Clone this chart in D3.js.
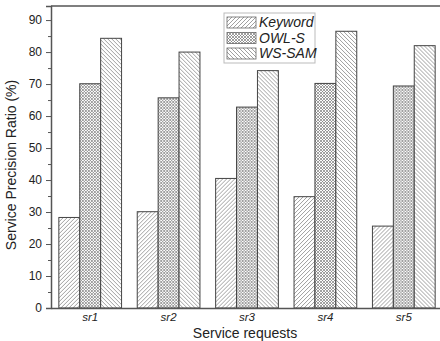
<!DOCTYPE html>
<html>
<head>
<meta charset="utf-8">
<script src="https://cdn.jsdelivr.net/npm/d3@7"></script>
<style>
  body { margin: 0; background: #fff; }
  svg { display: block; font-family: Arial, "Liberation Sans", sans-serif; }
</style>
</head>
<body>
<div id="chart"></div>
<script>
const categories = ["sr1", "sr2", "sr3", "sr4", "sr5"];
const seriesNames = ["Keyword", "OWL-S", "WS-SAM"];
const keywordValues = [28.3, 30.1, 40.5, 34.8, 25.6];
const owlsValues = [70.1, 65.7, 62.8, 70.2, 69.4];
const wssamValues = [84.3, 80.0, 74.2, 86.5, 82.0];
const yTicks = [0, 10, 20, 30, 40, 50, 60, 70, 80, 90];

const series = [keywordValues, owlsValues, wssamValues];
const data = categories.map((c, i) => ({
  cat: c,
  vals: seriesNames.map((s, j) => ({ name: s, value: series[j][i] }))
}));

const W = 440, H = 341;
const margin = { top: 6, right: -3, bottom: 33, left: 51 };
const width = W - margin.left - margin.right;
const height = H - margin.top - margin.bottom;

const svg = d3.select("#chart").append("svg")
  .attr("width", W).attr("height", H);

// hatch patterns
const defs = svg.append("defs");
function linePattern(id, dir) {
  const p = defs.append("pattern").attr("id", id)
    .attr("patternUnits", "userSpaceOnUse")
    .attr("width", 4).attr("height", 4);
  p.append("rect").attr("width", 4).attr("height", 4).attr("fill", "#fff");
  const d = dir > 0 ? "M-1,1 l2,-2 M0,4 l4,-4 M3,5 l2,-2" : "M-1,3 l2,2 M0,0 l4,4 M3,-1 l2,2";
  p.append("path").attr("d", d).attr("stroke", "#777").attr("stroke-width", 0.7);
}
linePattern("pat-kw", 1);
linePattern("pat-ws", -1);
const cp = defs.append("pattern").attr("id", "pat-owl")
  .attr("patternUnits", "userSpaceOnUse").attr("width", 3).attr("height", 3);
cp.append("rect").attr("width", 3).attr("height", 3).attr("fill", "#fff");
cp.append("path").attr("d", "M0,0 l3,3 M3,0 l-3,3").attr("stroke", "#777").attr("stroke-width", 0.7);

const fills = { "Keyword": "url(#pat-kw)", "OWL-S": "url(#pat-owl)", "WS-SAM": "url(#pat-ws)" };

const g = svg.append("g").attr("transform", `translate(${margin.left},${margin.top})`);

const x0 = d3.scaleBand().domain(categories).range([0, width]).paddingInner(0.2).paddingOuter(0.1);
const x1 = d3.scaleBand().domain(seriesNames).range([0, x0.bandwidth()]);
const y = d3.scaleLinear().domain([0, 94.4]).range([height, 0]);

// bars
g.selectAll(".grp").data(data).enter().append("g")
  .attr("transform", d => `translate(${x0(d.cat)},0)`)
  .selectAll("rect").data(d => d.vals).enter().append("rect")
  .attr("x", d => x1(d.name))
  .attr("y", d => y(d.value))
  .attr("width", x1.bandwidth())
  .attr("height", d => height - y(d.value))
  .attr("fill", d => fills[d.name])
  .attr("stroke", "#444").attr("stroke-width", 1);

// frame top
g.append("line").attr("x1", 0).attr("x2", width).attr("y1", 0).attr("y2", 0)
  .attr("stroke", "#555").attr("stroke-width", 1.5);

// y axis
const yAxis = g.append("g")
  .call(d3.axisLeft(y).tickValues(yTicks).tickSize(5).tickPadding(4));
g.append("g")
  .call(d3.axisLeft(y).tickValues(d3.range(5, 95, 10)).tickSize(3).tickFormat(""))
  .call(a => a.select(".domain").remove());
// x axis
const xAxis = g.append("g").attr("transform", `translate(0,${height})`)
  .call(d3.axisBottom(x0).tickSize(0).tickPadding(5));

svg.selectAll(".domain").attr("stroke", "#555").attr("stroke-width", 1.5);
svg.selectAll(".tick line").attr("stroke", "#555");
yAxis.selectAll("text").attr("font-size", 12).attr("fill", "#222").attr("font-family", "Arial, 'Liberation Sans', sans-serif");
xAxis.selectAll("text").attr("font-size", 11.5).attr("font-style", "italic").attr("fill", "#222").attr("font-family", "Arial, 'Liberation Sans', sans-serif");

// axis titles
svg.append("text").attr("x", 245).attr("y", 338).attr("text-anchor", "middle")
  .attr("font-size", 14).attr("fill", "#222").text("Service requests");
svg.append("text").attr("transform", "translate(16,165) rotate(-90)")
  .attr("text-anchor", "middle").attr("font-size", 14).attr("fill", "#222")
  .text("Service Precision Ratio (%)");

// legend
const leg = svg.append("g").attr("transform", "translate(224,13)");
leg.append("rect").attr("width", 91).attr("height", 50)
  .attr("fill", "#fff").attr("stroke", "#bbb").attr("stroke-width", 1);
seriesNames.forEach((s, i) => {
  leg.append("rect").attr("x", 3).attr("y", 4 + i * 15.5).attr("width", 29).attr("height", 11)
    .attr("fill", fills[s]).attr("stroke", "#666").attr("stroke-width", 0.8);
  leg.append("text").attr("x", 35).attr("y", 14 + i * 15.5)
    .attr("font-size", 14).attr("font-style", "italic").attr("fill", "#222").text(s);
});
</script>
</body>
</html>
